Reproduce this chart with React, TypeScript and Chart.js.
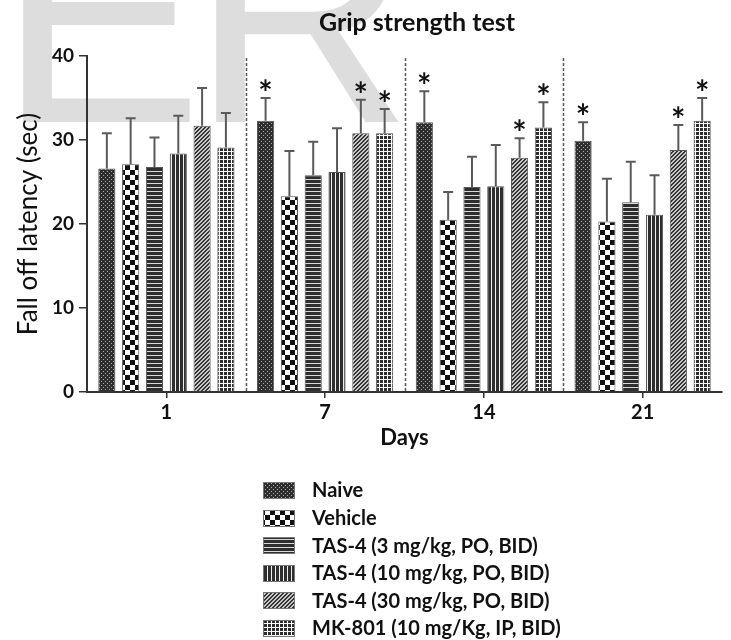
import React, { useEffect, useRef } from 'react';
import { Chart, registerables } from 'chart.js';

Chart.register(...registerables);

const days = ['1', '7', '14', '21'];
const seriesNames = [
  'Naive',
  'Vehicle',
  'TAS-4 (3 mg/kg, PO, BID)',
  'TAS-4 (10 mg/kg, PO, BID)',
  'TAS-4 (30 mg/kg, PO, BID)',
  'MK-801 (10 mg/Kg, IP, BID)',
];

const naive = [26.6, 32.3, 32.1, 29.9];
const naiveErr = [4.2, 2.7, 3.7, 2.2];
const naiveSig = [false, true, true, true];

const vehicle = [27.1, 23.3, 20.5, 20.3];
const vehicleErr = [5.5, 5.4, 3.3, 5.1];
const vehicleSig = [false, false, false, false];

const tas3 = [26.8, 25.8, 24.4, 22.6];
const tas3Err = [3.5, 4.0, 3.6, 4.8];
const tas3Sig = [false, false, false, false];

const tas10 = [28.4, 26.2, 24.5, 21.1];
const tas10Err = [4.5, 5.2, 4.9, 4.7];
const tas10Sig = [false, false, false, false];

const tas30 = [31.7, 30.8, 27.9, 28.8];
const tas30Err = [4.5, 4.0, 2.3, 3.0];
const tas30Sig = [false, true, true, true];

const mk801 = [29.1, 30.8, 31.5, 32.3];
const mk801Err = [4.1, 2.9, 3.0, 2.7];
const mk801Sig = [false, true, true, true];

const yTicks = [0, 10, 20, 30, 40];

const seriesValues = [naive, vehicle, tas3, tas10, tas30, mk801];
const seriesErrors = [naiveErr, vehicleErr, tas3Err, tas10Err, tas30Err, mk801Err];
const seriesSig = [naiveSig, vehicleSig, tas3Sig, tas10Sig, tas30Sig, mk801Sig];

const FONT = 'Lato, "Open Sans", sans-serif';

function makePattern(kind: number): CanvasPattern | string {
  const c = document.createElement('canvas');
  const g = c.getContext('2d');
  if (!g) return '#444';
  const dark = '#2e2e2e';
  if (kind === 0) {
    c.width = 4; c.height = 4;
    g.fillStyle = dark; g.fillRect(0, 0, 4, 4);
    g.fillStyle = '#a8a8a8';
    g.fillRect(1, 1, 1, 1); g.fillRect(3, 3, 1, 1);
  } else if (kind === 1) {
    c.width = 10; c.height = 10;
    g.fillStyle = '#ffffff'; g.fillRect(0, 0, 10, 10);
    g.fillStyle = '#111';
    g.fillRect(0, 0, 5, 5); g.fillRect(5, 5, 5, 5);
  } else if (kind === 2) {
    c.width = 4; c.height = 4;
    g.fillStyle = dark; g.fillRect(0, 0, 4, 4);
    g.fillStyle = '#d8d8d8'; g.fillRect(0, 3, 4, 1);
  } else if (kind === 3) {
    c.width = 4; c.height = 4;
    g.fillStyle = dark; g.fillRect(0, 0, 4, 4);
    g.fillStyle = '#f0f0f0'; g.fillRect(3, 0, 1, 4);
  } else if (kind === 4) {
    c.width = 4; c.height = 4;
    g.fillStyle = '#c8c8c8'; g.fillRect(0, 0, 4, 4);
    g.fillStyle = '#333';
    for (let y = 0; y < 4; y++) {
      const x = 3 - y;
      g.fillRect(x, y, 1, 1);
      g.fillRect((x + 1) % 4, y, 1, 1);
    }
  } else {
    c.width = 4; c.height = 4;
    g.fillStyle = dark; g.fillRect(0, 0, 4, 4);
    g.fillStyle = '#ffffff';
    g.fillRect(3, 0, 1, 4); g.fillRect(0, 3, 4, 1);
  }
  const p = g.createPattern(c, 'repeat');
  return p || '#444';
}

const watermarkPlugin = {
  id: 'watermark',
  beforeDraw(chart: any) {
    const ctx = chart.ctx;
    ctx.save();
    ctx.font = '307px "Liberation Sans", Arial, sans-serif';
    ctx.fillStyle = 'rgb(221,221,221)';
    ctx.textBaseline = 'alphabetic';
    ctx.textAlign = 'left';
    const mE = ctx.measureText('E');
    ctx.fillText('E', 22 + mE.actualBoundingBoxLeft, 122);
    const mR = ctx.measureText('R');
    ctx.fillText('R', 215 + mR.actualBoundingBoxLeft, 122);
    ctx.restore();
  },
};

const separatorPlugin = {
  id: 'separators',
  beforeDatasetsDraw(chart: any) {
    const ctx = chart.ctx;
    const xs = chart.scales.x;
    const area = chart.chartArea;
    ctx.save();
    ctx.strokeStyle = '#555';
    ctx.lineWidth = 1.5;
    ctx.setLineDash([3, 2]);
    for (let k = 1; k < days.length; k++) {
      const x = (xs.getPixelForValue(k - 1) + xs.getPixelForValue(k)) / 2;
      ctx.beginPath();
      ctx.moveTo(Math.round(x) + 0.5, area.top + 2);
      ctx.lineTo(Math.round(x) + 0.5, area.bottom);
      ctx.stroke();
    }
    ctx.restore();
  },
};

const errorPlugin = {
  id: 'errorbars',
  afterDatasetsDraw(chart: any) {
    const ctx = chart.ctx;
    const ys = chart.scales.y;
    ctx.save();
    chart.data.datasets.forEach((ds: any, i: number) => {
      const meta = chart.getDatasetMeta(i);
      meta.data.forEach((bar: any, j: number) => {
        const v = seriesValues[i][j];
        const e = seriesErrors[i][j];
        const x = bar.x;
        const yTop = ys.getPixelForValue(v);
        const yErr = ys.getPixelForValue(v + e);
        ctx.strokeStyle = '#5a5a5a';
        ctx.lineWidth = 2;
        ctx.beginPath();
        ctx.moveTo(x, yTop);
        ctx.lineTo(x, yErr);
        ctx.moveTo(x - 5, yErr);
        ctx.lineTo(x + 5, yErr);
        ctx.stroke();
        if (seriesSig[i][j]) {
          ctx.font = `bold 34px ${FONT}`;
          ctx.fillStyle = '#111';
          ctx.textAlign = 'center';
          ctx.textBaseline = 'alphabetic';
          const m = ctx.measureText('*');
          const asc = m.actualBoundingBoxAscent;
          const desc = m.actualBoundingBoxDescent;
          const cy = yErr - 13;
          ctx.fillText('*', x, cy + (asc - desc) / 2);
        }
      });
    });
    ctx.restore();
  },
};

const titleLegendPlugin = {
  id: 'titleLegend',
  afterDraw(chart: any) {
    const ctx = chart.ctx;
    ctx.save();
    ctx.fillStyle = '#111';
    ctx.font = `bold 25px ${FONT}`;
    ctx.textAlign = 'center';
    ctx.textBaseline = 'middle';
    ctx.fillText('Grip strength test', 417, 23);

    ctx.textAlign = 'left';
    ctx.font = `bold 20px ${FONT}`;
    chart.data.datasets.forEach((ds: any, i: number) => {
      const cy = 490 + i * 27.6;
      ctx.fillStyle = ds.backgroundColor;
      ctx.fillRect(263, Math.round(cy - 8), 31, 16);
      ctx.strokeStyle = '#777';
      ctx.lineWidth = 1;
      ctx.strokeRect(263.5, Math.round(cy - 8) + 0.5, 31, 16);
      ctx.fillStyle = '#111';
      ctx.fillText(ds.label, 312, cy + 1);
    });
    ctx.restore();
  },
};

export default function App() {
  const ref = useRef<HTMLCanvasElement | null>(null);

  useEffect(() => {
    if (!ref.current) return;
    const datasets = seriesNames.map((name, i) => ({
      label: name,
      data: seriesValues[i],
      backgroundColor: makePattern(i),
      borderColor: '#555',
      borderWidth: 1,
      categoryPercentage: 0.9,
      barPercentage: 0.72,
    }));
    const chart = new Chart(ref.current, {
      type: 'bar',
      data: { labels: days, datasets: datasets as any },
      options: {
        animation: false,
        responsive: false,
        events: [],
        layout: { padding: { left: 0, right: 9, top: 56, bottom: 188 } },
        plugins: {
          legend: { display: false },
          title: { display: false },
          tooltip: { enabled: false },
        },
        scales: {
          x: {
            type: 'category',
            grid: {
              display: true,
              drawOnChartArea: false,
              drawTicks: true,
              tickLength: 6,
              color: '#333',
              lineWidth: 1.5,
              offset: false,
            },
            border: { display: true, color: '#333', width: 2 },
            ticks: {
              font: { family: FONT, weight: 'bold', size: 20 },
              color: '#111',
              padding: 3,
            },
            title: {
              display: true,
              text: 'Days',
              font: { family: FONT, weight: 'bold', size: 22 },
              color: '#111',
              padding: { top: 0, bottom: 1 },
            },
            afterFit: (s: any) => { s.height = 60; },
          },
          y: {
            min: 0,
            max: 40,
            afterBuildTicks: (s: any) => { s.ticks = yTicks.map((v) => ({ value: v })); },
            grid: {
              display: true,
              drawOnChartArea: false,
              drawTicks: true,
              tickLength: 8,
              color: '#333',
              lineWidth: 1.5,
            },
            border: { display: true, color: '#333', width: 2 },
            ticks: {
              font: { family: FONT, weight: 'bold', size: 19 },
              color: '#111',
              padding: 5,
            },
            title: {
              display: true,
              text: 'Fall off latency (sec)',
              font: { family: FONT, size: 26 },
              color: '#111',
              padding: { top: 13, bottom: 0 },
            },
            afterFit: (s: any) => { s.width = 87; },
          },
        },
      } as any,
      plugins: [watermarkPlugin, separatorPlugin, errorPlugin, titleLegendPlugin],
    });
    return () => chart.destroy();
  }, []);

  return (
    <div style={{ position: 'fixed', left: 0, top: 0, width: 731, height: 640, background: '#fff' }}>
      <canvas ref={ref} width={731} height={640} style={{ display: 'block' }} />
    </div>
  );
}
